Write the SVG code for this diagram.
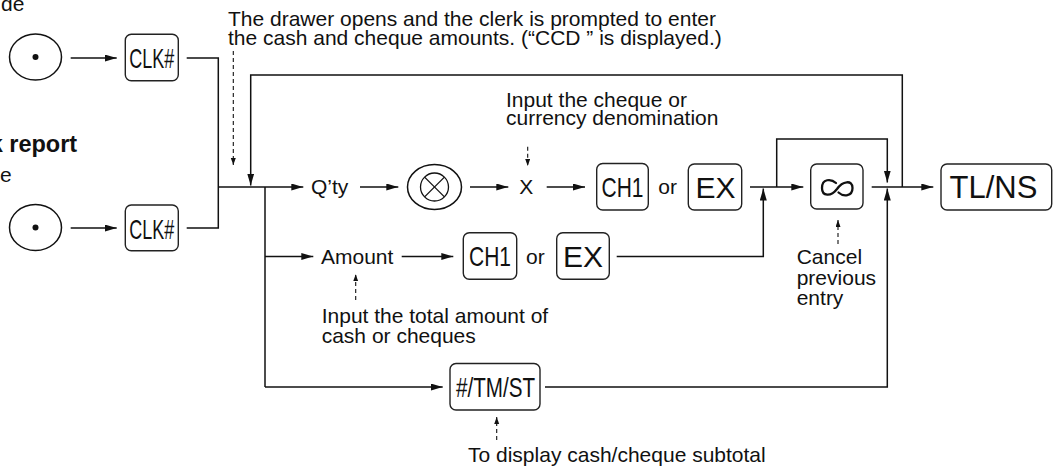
<svg xmlns="http://www.w3.org/2000/svg" width="1055" height="469" viewBox="0 0 1055 469">
<style>
text{font-family:"Liberation Sans",Arial,sans-serif;fill:#111;}
.t{font-size:21px;}
.b{font-size:23.5px;font-weight:bold;}
.key{fill:#fff;stroke:#222;stroke-width:1.4;}
.kt{font-size:28px;}
.kb{font-size:30px;}
.ln{fill:none;stroke:#111;stroke-width:1.5;}
.ds{fill:none;stroke:#111;stroke-width:1.1;stroke-dasharray:4 3;}
.cir{fill:#fff;stroke:#111;stroke-width:1.5;}
</style>
<defs>
<marker id="ah" markerUnits="userSpaceOnUse" markerWidth="12" markerHeight="8" refX="12" refY="3.5" orient="auto"><path d="M0,0 L12,3.5 L0,7 z" fill="#111"/></marker>
<marker id="sh" markerUnits="userSpaceOnUse" markerWidth="7" markerHeight="6" refX="7" refY="2.5" orient="auto"><path d="M0,0 L7,2.5 L0,5 z" fill="#111"/></marker>
</defs>

<g id="side-text">
<text class="t" x="1" y="11">de</text>
<text class="b" x="-10.3" y="152">k report</text>
<text class="t" x="0" y="182">e</text>
</g>

<g id="connectors">
<!-- left inputs -->
<line class="ln" x1="70.7" y1="58" x2="116.7" y2="58" marker-end="url(#ah)"/>
<line class="ln" x1="70.7" y1="228" x2="116.7" y2="228" marker-end="url(#ah)"/>
<polyline class="ln" points="186.7,58 218.3,58 218.3,228 186.7,228"/>
<!-- main row -->
<line class="ln" x1="218.3" y1="187" x2="303.3" y2="187" marker-end="url(#ah)"/>
<line class="ln" x1="360" y1="187" x2="398.3" y2="187" marker-end="url(#ah)"/>
<line class="ln" x1="470" y1="187" x2="508.3" y2="187" marker-end="url(#ah)"/>
<line class="ln" x1="546.7" y1="187" x2="585" y2="187" marker-end="url(#ah)"/>
<line class="ln" x1="750" y1="187" x2="803.3" y2="187" marker-end="url(#ah)"/>
<polyline class="ln" points="776.7,187 776.7,139 887.3,139 887.3,182.5" marker-end="url(#ah)"/>
<line class="ln" x1="871.7" y1="187" x2="933.3" y2="187" marker-end="url(#ah)"/>
<polyline class="ln" points="902.3,187 902.3,75 250.7,75 250.7,185.5" marker-end="url(#ah)"/>
<!-- branch -->
<line class="ln" x1="265" y1="187" x2="265" y2="387"/>
<line class="ln" x1="265" y1="256.5" x2="313.3" y2="256.5" marker-end="url(#ah)"/>
<line class="ln" x1="401.7" y1="256.5" x2="453.3" y2="256.5" marker-end="url(#ah)"/>
<polyline class="ln" points="616.7,256.5 763.3,256.5 763.3,188.5" marker-end="url(#ah)"/>
<line class="ln" x1="265" y1="387" x2="442.7" y2="387" marker-end="url(#ah)"/>
<polyline class="ln" points="545,387 887.3,387 887.3,188.5" marker-end="url(#ah)"/>
<!-- dashed annotation arrows -->
<line class="ds" x1="233.3" y1="51" x2="233.3" y2="165" marker-end="url(#sh)"/>
<line class="ds" x1="527.7" y1="146.7" x2="527.7" y2="166" marker-end="url(#sh)"/>
<line class="ds" x1="355.7" y1="300" x2="355.7" y2="274.3" marker-end="url(#sh)"/>
<line class="ds" x1="838" y1="244" x2="838" y2="220" marker-end="url(#sh)"/>
<line class="ds" x1="496.7" y1="440" x2="496.7" y2="417" marker-end="url(#sh)"/>
</g>

<g id="mode-key-1">
<ellipse class="cir" cx="35.5" cy="57" rx="26" ry="23"/>
<circle cx="35.5" cy="57" r="3" fill="#111"/>
</g>
<g id="clk-key-1">
<rect class="key" x="125.3" y="34.3" width="53" height="46.4" rx="6"/>
<text class="kt" x="151.8" y="68" text-anchor="middle" textLength="45" lengthAdjust="spacingAndGlyphs">CLK#</text>
</g>
<g id="mode-key-2">
<ellipse class="cir" cx="35.5" cy="227.5" rx="26" ry="23"/>
<circle cx="35.5" cy="227.5" r="3" fill="#111"/>
</g>
<g id="clk-key-2">
<rect class="key" x="125.3" y="205" width="53" height="45.7" rx="6"/>
<text class="kt" x="151.8" y="238.5" text-anchor="middle" textLength="45" lengthAdjust="spacingAndGlyphs">CLK#</text>
</g>

<g id="note-drawer">
<text class="t" x="228" y="26">The drawer opens and the clerk is prompted to enter</text>
<text class="t" x="228" y="45">the cash and cheque amounts. (“CCD ” is displayed.)</text>
</g>

<g id="qty"><text class="t" x="311" y="193.5">Q’ty</text></g>
<g id="mult-key">
<ellipse class="cir" cx="434.5" cy="187" rx="27" ry="22.5"/>
<circle cx="434.5" cy="187" r="14" fill="none" stroke="#111" stroke-width="1.3"/>
<line x1="424.6" y1="177.1" x2="444.4" y2="196.9" stroke="#111" stroke-width="1.3"/>
<line x1="444.4" y1="177.1" x2="424.6" y2="196.9" stroke="#111" stroke-width="1.3"/>
</g>
<g id="x-label"><text class="t" x="519.3" y="193.5">X</text></g>
<g id="note-denomination">
<text class="t" x="506" y="106.5">Input the cheque or</text>
<text class="t" x="506" y="125">currency denomination</text>
</g>
<g id="ch1-key-1">
<rect class="key" x="596.7" y="163.5" width="51.6" height="46.5" rx="6"/>
<text class="kt" x="622.5" y="197" text-anchor="middle" textLength="42" lengthAdjust="spacingAndGlyphs">CH1</text>
</g>
<g id="or-1"><text class="t" x="658.3" y="193.5">or</text></g>
<g id="ex-key-1">
<rect class="key" x="688.3" y="164" width="53.4" height="46" rx="6"/>
<text class="kb" x="715.5" y="198" text-anchor="middle">EX</text>
</g>
<g id="void-key">
<rect class="key" x="810.7" y="164" width="52.3" height="45" rx="6"/>
<path d="M836,183 C831,178.5 822,178.5 822,188 C822,196.5 831,197 837,189 C842.5,181 852.5,179.5 852.5,188 C852.5,196.5 843.5,197 838.5,192.5" fill="none" stroke="#111" stroke-width="2.3" stroke-linecap="round"/>
</g>
<g id="note-cancel">
<text class="t" x="796.7" y="264">Cancel</text>
<text class="t" x="796.7" y="284.5">previous</text>
<text class="t" x="796.7" y="305">entry</text>
</g>
<g id="tlns-key">
<rect class="key" x="941" y="164" width="110.7" height="46" rx="6"/>
<text x="993.5" y="198" text-anchor="middle" style="font-size:31px">TL/NS</text>
</g>

<g id="amount"><text class="t" x="321" y="263.5">Amount</text></g>
<g id="ch1-key-2">
<rect class="key" x="463.3" y="232.7" width="53.4" height="46.6" rx="6"/>
<text class="kt" x="490" y="266" text-anchor="middle" textLength="42" lengthAdjust="spacingAndGlyphs">CH1</text>
</g>
<g id="or-2"><text class="t" x="526" y="263.5">or</text></g>
<g id="ex-key-2">
<rect class="key" x="556.7" y="232.7" width="52.6" height="46.6" rx="6"/>
<text class="kb" x="583" y="267" text-anchor="middle">EX</text>
</g>
<g id="note-amount">
<text class="t" x="321.7" y="323.3">Input the total amount of</text>
<text class="t" x="321.7" y="343.3">cash or cheques</text>
</g>

<g id="st-key">
<rect class="key" x="450" y="363.5" width="90" height="46.5" rx="6"/>
<text class="kt" x="495.5" y="397" text-anchor="middle" textLength="79" lengthAdjust="spacingAndGlyphs">#/TM/ST</text>
</g>
<g id="note-subtotal">
<text class="t" x="468" y="461.7">To display cash/cheque subtotal</text>
</g>
</svg>
